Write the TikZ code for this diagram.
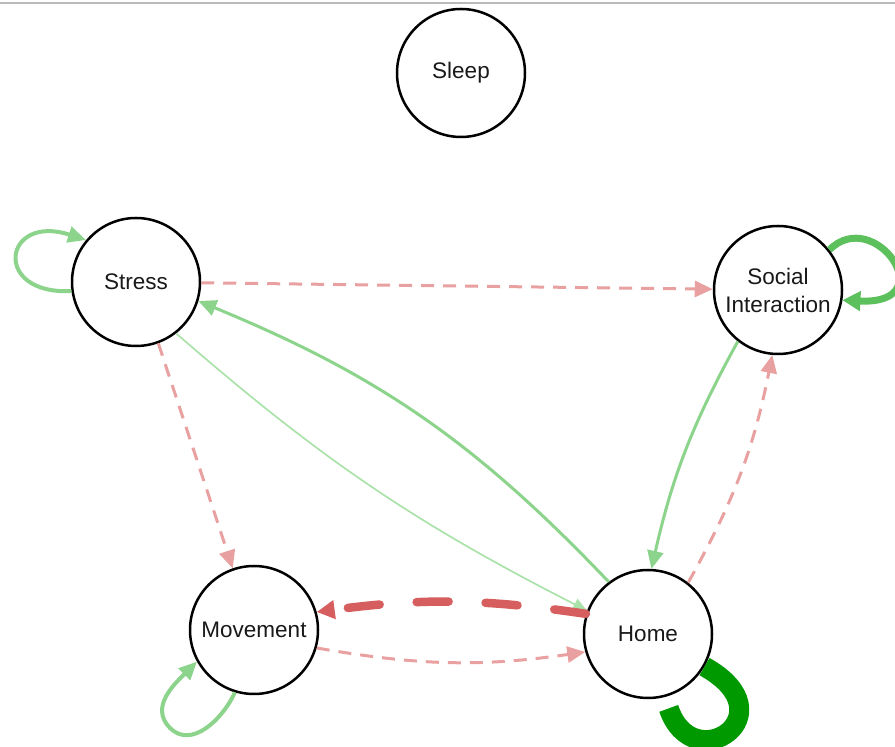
\documentclass[tikz,border=0pt]{standalone}
\usepackage{fontspec}
\setmainfont{Liberation Sans}
\usetikzlibrary{arrows.meta}
\definecolor{lgreen}{RGB}{140,212,140}
\definecolor{vlgreen}{RGB}{170,226,170}
\definecolor{mgreen}{RGB}{92,192,92}
\definecolor{dgreen}{RGB}{0,153,0}
\definecolor{epink}{RGB}{232,160,160}
\definecolor{ered}{RGB}{214,94,94}
\begin{document}
\begin{tikzpicture}[x=1pt,y=1pt,
  state/.style={circle,draw=black,fill=white,line width=2.5pt,minimum size=128pt,inner sep=0pt,
    font=\fontsize{22.5}{28}\selectfont,align=center,text=black!90},
  tipbig/.style={-{Triangle[length=18pt,width=16pt]}},
  tipsmall/.style={-{Triangle[length=14pt,width=12pt]}},
  posedge/.style={draw=lgreen,line width=3pt,tipbig},
  negedge/.style={draw=epink,line width=3pt,dash pattern=on 13pt off 9pt,tipbig}]
\useasboundingbox (0,0) rectangle (895,747);
\draw[black!27,line width=1.2pt] (0,744) -- (895,744);

\node[state] (Sleep) at (461,674) {Sleep};
\node[state] (Stress) at (136,465) {Stress};
\node[state] (Social) at (778,457) {Social\\Interaction};
\node[state] (Movement) at (254,117) {Movement};
\node[state] (Home) at (648,113) {Home};

% self loops
\draw[posedge,line width=4pt] (Stress.188) .. controls +(-80,-4) and +(-83,27) .. (Stress.140);
\draw[posedge,draw=mgreen,line width=7pt,-{Triangle[length=18pt,width=19pt]}] (Social.38) .. controls +(45,45) and +(102,-5) .. (Social.-9);
\draw[posedge,line width=4pt] (Movement.-107) .. controls +(-12.6,-27.3) and +(21.2,-21.2) .. (170,19)
   .. controls +(-21.2,21.2) and +(-21.2,-21.2) .. (Movement.209);
\draw[draw=dgreen,line width=20pt,shorten >=12pt] (Home.-30) .. controls +(86,-48) and +(28,-83) .. (Home.-75);

% edges
\draw[negedge] (Stress) -- (Social);
\draw[posedge] (Home.127) to[bend right=12] (Stress.-17);
\draw[posedge,draw=vlgreen,line width=1.7pt,tipsmall] (Stress.-52) to[bend right=7] (Home.159);
\draw[negedge] (Stress.-70) -- (Movement.109);
\draw[posedge] (Social.-128) to[bend right=8] (Home.87);
\draw[negedge] (Home.52) to[bend right=9] (Social.-95);
\draw[negedge,draw=ered,line width=8.5pt,line cap=round,dash pattern=on 32pt off 37pt,
  -{Triangle[length=18pt,width=18pt]}] (Home.162) to[bend right=8] (Movement.16);
\draw[negedge] (Movement.-16) to[bend right=9] (Home.-164);
\end{tikzpicture}
\end{document}
